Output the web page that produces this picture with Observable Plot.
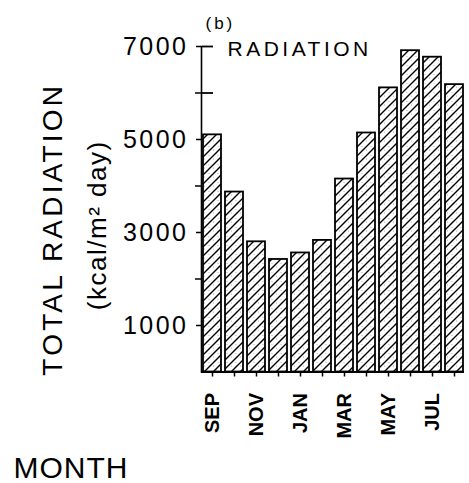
<!DOCTYPE html>
<html>
<head>
<meta charset="utf-8">
<script src="https://cdn.jsdelivr.net/npm/d3@7"></script>
<script src="https://cdn.jsdelivr.net/npm/@observablehq/plot@0.6"></script>
<style>
  html, body { margin: 0; padding: 0; background: #fff; }
  svg { display: block; }
  g[aria-label="y-axis tick label"] text { letter-spacing: 2.5px; }
  g[aria-description="ylabel1"] text { letter-spacing: 3.2px; }
  g[aria-description="ylabel2"] text { letter-spacing: 1.5px; }
  g[aria-description="title"] text { letter-spacing: 3.5px; }
  g[aria-description="panel"] text { letter-spacing: 3px; }
  g[aria-description="xlabel"] text { letter-spacing: 1px; }
</style>
</head>
<body>
<div id="chart"></div>
<script>
const months = ["SEP","OCT","NOV","DEC","JAN","FEB","MAR","APR","MAY","JUN","JUL","AUG"];
const radiation = [5100, 3870, 2800, 2420, 2560, 2830, 4150, 5140, 6110, 6910, 6770, 6180];
const monthLabels = ["SEP","NOV","JAN","MAR","MAY","JUL"];
const yTicks = [1000, 3000, 5000, 7000];
const yMinorTicks = [2000, 4000, 6000];
const yCrossTicks = [6000, 7000];

const data = months.map((m, i) => ({month: m, value: radiation[i]}));

const font = "'Liberation Sans', Arial, sans-serif";

const svg = Plot.plot({
  width: 469,
  height: 483,
  marginLeft: 201,
  marginRight: 5,
  marginTop: 46,
  marginBottom: 111.5,
  style: {fontFamily: font, background: "#fff", color: "#000"},
  x: {type: "band", domain: months, paddingInner: 0.2, paddingOuter: 0.05},
  y: {domain: [0, 7000]},
  marks: [
    Plot.barY(data, {x: "month", y: "value", fill: "url(#hatch)", stroke: "#000", strokeWidth: 1.8}),
    Plot.ruleY([0], {stroke: "#000", strokeWidth: 2.2}),
    Plot.frame({anchor: "left", stroke: "#000", strokeWidth: 1.6}),
    Plot.axisY({ticks: yTicks, tickSize: 5, tickPadding: 8, fontSize: 25, tickFormat: "d", label: null, strokeWidth: 1.5}),
    Plot.axisY({ticks: yMinorTicks, tickSize: 6, tickFormat: () => "", label: null, strokeWidth: 1.5}),
    Plot.tickY(yCrossTicks, {y: d => d, x: () => "SEP", insetLeft: -1, insetRight: 8, stroke: "#000", strokeWidth: 1.8}),
    Plot.axisX({tickSize: 5, tickFormat: () => "", label: null, strokeWidth: 1.5}),
    Plot.axisX({ticks: monthLabels, tickSize: 0, tickPadding: 21, tickRotate: -90, fontSize: 20, fontWeight: "bold", label: null}),
    Plot.text(["TOTAL RADIATION"], {frameAnchor: "left", textAnchor: "middle", rotate: -90, dx: -148, dy: 20, fontSize: 28, ariaDescription: "ylabel1"}),
    Plot.text(["(kcal/m\u00B2 day)"], {frameAnchor: "left", textAnchor: "middle", rotate: -90, dx: -104, dy: 16, fontSize: 26, ariaDescription: "ylabel2"}),
    Plot.text(["RADIATION"], {frameAnchor: "top-left", textAnchor: "start", lineAnchor: "bottom", dx: 26, dy: 9, fontSize: 21, ariaDescription: "title"}),
    Plot.text(["(b)"], {frameAnchor: "top-left", textAnchor: "start", lineAnchor: "bottom", dx: 4, dy: -18, fontSize: 17, ariaDescription: "panel"}),
    Plot.text(["MONTH"], {frameAnchor: "bottom-left", textAnchor: "start", lineAnchor: "bottom", dx: -188, dy: 106, fontSize: 30, ariaDescription: "xlabel"})
  ]
});

svg.insertAdjacentHTML("afterbegin", `
<defs>
  <pattern id="hatch" patternUnits="userSpaceOnUse" width="9" height="9">
    <rect width="9" height="9" fill="#fff"/>
    <path d="M-2,2 L2,-2 M0,9 L9,0 M7,11 L11,7" stroke="#000" stroke-width="1.4"/>
    <circle cx="2" cy="2.5" r="0.5" fill="#999"/>
    <circle cx="6.5" cy="6" r="0.5" fill="#999"/>
  </pattern>
</defs>`);

document.getElementById("chart").appendChild(svg);
</script>
</body>
</html>
